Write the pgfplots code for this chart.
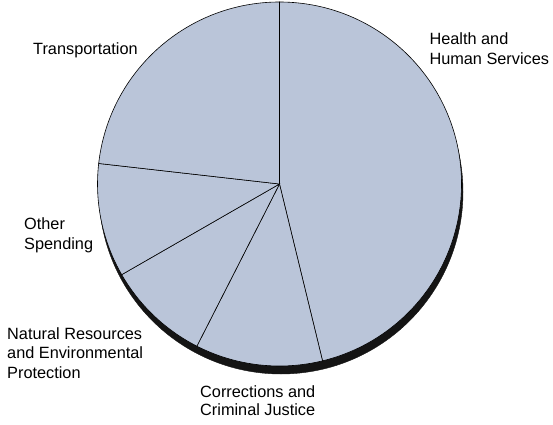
\documentclass[border=0pt]{standalone}
\usepackage{pgfplots}
\pgfplotsset{compat=1.18}
\usepackage{fontspec}
\setmainfont{Liberation Sans}
\definecolor{slice}{RGB}{186,197,217}
\tikzset{lab/.style={font=\fontsize{16.3}{20}\selectfont, inner sep=0pt, anchor=base west}}

\begin{document}
\begin{tikzpicture}
% shares in percent, clockwise from 12 o'clock
\def\rad{182}
\pgfmathsetmacro{\aA}{90}
\pgfmathsetmacro{\aB}{\aA-3.6*46.2} % Health and Human Services
\pgfmathsetmacro{\aC}{\aB-3.6*11.3} % Corrections and Criminal Justice
\pgfmathsetmacro{\aD}{\aC-3.6*9.2}  % Natural Resources
\pgfmathsetmacro{\aE}{\aD-3.6*10.1} % Other Spending
\pgfmathsetmacro{\aF}{\aE-3.6*23.2} % Transportation
\begin{axis}[name=ax, hide axis, x=1pt, y=1pt,
  xmin=-279.5, xmax=273.5, ymin=-240, ymax=184, clip=false]
% shadow
\addplot[draw=black!92, fill=black!92, data cs=polar, shift={(1.5pt,-8pt)}]
  coordinates {(0,\rad)} arc[start angle=0, end angle=360, radius=\rad pt] -- cycle;
% slices
\addplot[draw=black, line width=0.6pt, fill=slice, data cs=polar]
  coordinates {(0,0) (\aA,\rad)} arc[start angle=\aA, end angle=\aB, radius=\rad pt] -- cycle;
\addplot[draw=black, line width=0.6pt, fill=slice, data cs=polar]
  coordinates {(0,0) (\aB,\rad)} arc[start angle=\aB, end angle=\aC, radius=\rad pt] -- cycle;
\addplot[draw=black, line width=0.6pt, fill=slice, data cs=polar]
  coordinates {(0,0) (\aC,\rad)} arc[start angle=\aC, end angle=\aD, radius=\rad pt] -- cycle;
\addplot[draw=black, line width=0.6pt, fill=slice, data cs=polar]
  coordinates {(0,0) (\aD,\rad)} arc[start angle=\aD, end angle=\aE, radius=\rad pt] -- cycle;
\addplot[draw=black, line width=0.6pt, fill=slice, data cs=polar]
  coordinates {(0,0) (\aE,\rad)} arc[start angle=\aE, end angle=\aF, radius=\rad pt] -- cycle;
% labels
\node[lab] at (axis cs:-246.5,130) {Transportation};
\node[lab] at (axis cs:149.8,139.5) {Health and};
\node[lab] at (axis cs:149.8,119.5) {Human Services};
\node[lab] at (axis cs:-255.5,-45.5) {Other};
\node[lab] at (axis cs:-255.5,-65) {Spending};
\node[lab] at (axis cs:-272.5,-155) {Natural Resources};
\node[lab] at (axis cs:-272.5,-174.5) {and Environmental};
\node[lab] at (axis cs:-272.5,-194.3) {Protection};
\node[lab] at (axis cs:-79.5,-213.7) {Corrections and};
\node[lab] at (axis cs:-79.5,-231.5) {Criminal Justice};
\end{axis}
\pgfresetboundingbox
\useasboundingbox (ax.south west) rectangle (ax.north east);
\end{tikzpicture}
\end{document}
